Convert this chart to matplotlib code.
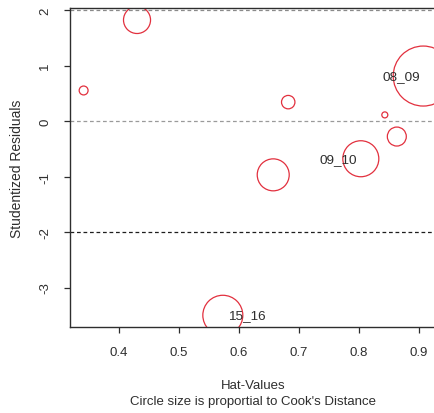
import numpy as np
import matplotlib
matplotlib.use("Agg")
import matplotlib.pyplot as plt

plt.rcParams['font.family'] = ['Liberation Sans', 'DejaVu Sans']

# Influence diagnostics per observation
obs_labels = ["", "", "", "", "09_10", "", "", "08_09", "15_16"]
hat_values = [0.341, 0.430, 0.682, 0.657, 0.803, 0.843, 0.863, 0.907, 0.573]
stud_resid = [0.55, 1.82, 0.34, -0.97, -0.68, 0.11, -0.28, 0.81, -3.50]
cooks_d = [0.022, 0.203, 0.050, 0.284, 0.360, 0.010, 0.100, 1.000, 0.444]

x_ticks = [0.4, 0.5, 0.6, 0.7, 0.8, 0.9]
y_ticks = [-3, -2, -1, 0, 1, 2]

DPI = 100
fig = plt.figure(figsize=(4.35, 4.14), dpi=DPI)
ax = fig.add_axes([70 / 435, (414 - 327.7) / 414, 366 / 435, (327.7 - 9) / 414])

ink = "#2e2e2e"
red = "#e2303e"

# reference lines at -2, 0, 2
ax.axhline(0, color="#9a9a9a", lw=0.9, ls=(0, (3, 2.2)), zorder=1)
ax.axhline(2, color="#8a8a8a", lw=0.9, ls=(0, (3, 2.2)), zorder=1)
ax.axhline(-2, color="#1e1e1e", lw=0.9, ls=(0, (3, 2.2)), zorder=1)

# circle radius proportional to sqrt(Cook's distance); largest = 30 px
cd = np.asarray(cooks_d)
radius_px = 30 * np.sqrt(cd / cd.max())
sizes = (2 * radius_px * 72 / DPI) ** 2
ax.scatter(hat_values, stud_resid, s=sizes, facecolors="none",
           edgecolors=red, linewidths=0.9, zorder=2)

for x, y, lab in zip(hat_values, stud_resid, obs_labels):
    if not lab:
        continue
    if x > 0.7:
        ax.annotate(lab, (x, y), xytext=(-2.5, 0), textcoords="offset points",
                    ha="right", va="center", fontsize=9.7, color=ink, zorder=3)
    else:
        ax.annotate(lab, (x, y), xytext=(3.5, 0), textcoords="offset points",
                    ha="left", va="center", fontsize=9.7, color=ink, zorder=3)

ax.set_xlim(0.3183, 0.9283)
ax.set_ylim(-3.706, 2.036)
ax.set_xticks(x_ticks)
ax.set_xticklabels([f"{v:.1f}" for v in x_ticks])
ax.set_yticks(y_ticks)
ax.set_yticklabels([str(v) for v in y_ticks])

for sp in ax.spines.values():
    sp.set_color(ink)
    sp.set_linewidth(1.0)

ax.tick_params(axis="both", colors=ink, labelcolor=ink, labelsize=9.5,
               length=4.5, width=0.9)
ax.tick_params(axis="x", pad=9.5)
ax.tick_params(axis="y", pad=9, labelrotation=90)
for lab in ax.get_yticklabels():
    lab.set_verticalalignment("center")

ax.set_xlabel("Hat-Values\nCircle size is proportial to Cook's Distance",
              fontsize=9.5, color=ink, labelpad=15, linespacing=1.5)
ax.set_ylabel("Studentized Residuals", fontsize=10, color=ink, labelpad=11)

fig.savefig("out.png", dpi=DPI, facecolor="white")
